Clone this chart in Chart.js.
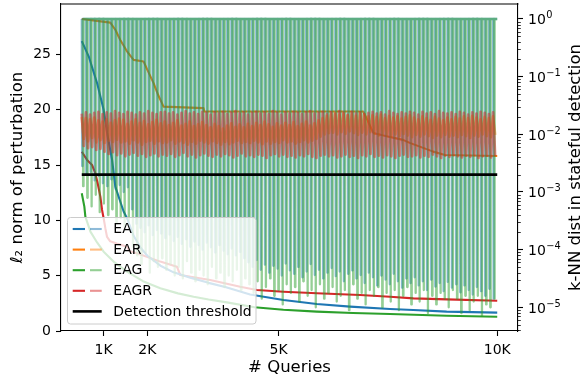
<!DOCTYPE html>
<html><head><meta charset="utf-8">
<script src="https://cdn.jsdelivr.net/npm/chart.js@4.4.0/dist/chart.umd.min.js"></script>
<style>html,body{margin:0;padding:0;background:#fff;}canvas{display:block;}</style>
</head><body>
<canvas id="c" width="586" height="379"></canvas>
<script>
// ---------- axis ticks ----------
const xTickValues = [1000, 2000, 5000, 10000];
const xTickLabels = ['1K', '2K', '5K', '10K'];
const yTickValues = [0, 5, 10, 15, 20, 25];
const y2TickValues = [1e-5, 1e-4, 1e-3, 1e-2, 1e-1, 1];
const y2TickExponents = ['\u22125', '\u22124', '\u22123', '\u22122', '\u22121', '0'];

// ---------- l2 norm of perturbation (left axis) ----------
const eaQueries = [500,660,770,850,1000,1078,1192,1267,1380,1457,1534,1685,1850,2000,2300,2600,3000,3400,3800,4350,5111,5874,6635,7548,8082,8843,10000];
const eaNorm    = [26.2,24.8,23.4,22.4,20.0,17.9,15.5,13.05,11.7,10.8,10.2,8.6,7.5,6.8,5.9,5.3,4.8,4.35,3.95,3.3,2.8,2.44,2.2,1.99,1.9,1.75,1.66];

const earQueries = [500,1153,1270,1381,1530,1685,1914,2000,2142,2250,2370,3284,3300,6938,7167,7473,7845,8000,8537,8804,10000];
const earNorm    = [28.2,27.87,27.2,26.3,25.3,24.5,24.35,23.6,22.4,21.3,20.28,20.14,19.83,19.83,17.9,17.6,17.27,17.0,16.21,15.9,15.82];

const eagQueries = [500,559,582,698,850,1000,1250,1534,1900,2295,2700,3058,3400,3818,4450,5111,5874,6700,7548,8843,10000];
const eagNorm    = [12.45,11.24,10.33,8.98,8.0,7.17,6.2,5.36,4.5,3.86,3.4,3.1,2.85,2.59,2.15,1.92,1.75,1.62,1.54,1.38,1.29];

const eagrQueries = [500,621,735,810,863,925,964,1000,1039,1078,1150,1300,1534,1600,1763,2295,2676,2752,3437,4122,4504,5111,5874,6863,7548,8082,8843,10000];
const eagrNorm    = [16.2,15.46,15.0,14.26,13.35,12.14,10.94,10.19,9.29,8.5,8.1,7.9,7.62,7.2,7.03,6.27,5.81,5.06,4.61,4.0,3.7,3.55,3.41,3.25,3.1,2.95,2.86,2.74];

// ---------- k-NN dist in stateful detection (right axis) ----------
const thresholdQueries = [500, 10000];
const thresholdDist = [0.002, 0.002];
const knnStart = 500, knnStep = 95;   // query index of each k-NN sample
const knnTop = 1.0;                    // maximum distance between drops

// log10 of the low point of each drop (EA, EAG)
const eaKnnLowLog10 = [
-2.55,-2.70,-2.65,-2.80,-2.72,-2.85,-2.90,-2.78,-2.95,-2.88,
-3.00,-2.92,-3.30,-3.55,-3.62,-3.70,-3.58,-3.75,-3.66,-3.72,
-3.80,-3.74,-3.85,-3.78,-3.90,-3.82,-3.95,-3.86,-3.92,-4.00,
-3.88,-3.96,-4.05,-3.92,-4.02,-4.08,-3.98,-4.10,-4.04,-4.15,
-4.22,-4.30,-4.18,-4.35,-4.26,-4.40,-4.28,-4.33,-4.45,-4.24,
-4.36,-4.42,-4.30,-4.48,-4.38,-4.25,-4.44,-4.35,-4.50,-4.40,
-4.32,-4.46,-4.38,-4.55,-4.42,-4.36,-4.50,-4.44,-4.58,-4.40,
-4.48,-4.62,-4.45,-4.52,-4.60,-4.42,-4.55,-4.66,-4.50,-4.58,
-4.48,-4.62,-4.55,-4.70,-4.52,-4.64,-4.58,-4.72,-4.56,-4.66,
-4.60,-4.74,-4.62,-4.70,-4.78,-4.65,-4.72,-4.80,-4.68,-4.85];
const eagKnnLowLog10 = [
-2.90,-3.10,-3.25,-3.05,-3.35,-3.20,-3.40,-3.30,-3.55,-3.45,
-3.60,-3.50,-3.95,-4.10,-4.25,-4.05,-4.40,-4.20,-4.30,-4.15,
-4.35,-4.25,-4.45,-4.30,-4.50,-4.20,-4.40,-4.55,-4.35,-4.45,
-4.60,-4.30,-4.50,-4.40,-4.65,-4.45,-4.55,-4.35,-4.70,-4.50,
-4.60,-4.75,-4.55,-4.85,-4.65,-4.50,-4.80,-4.70,-4.95,-4.60,
-4.75,-4.65,-4.90,-4.55,-4.80,-4.70,-5.00,-4.60,-4.85,-4.75,
-4.65,-4.90,-4.80,-4.70,-5.05,-4.60,-4.85,-4.75,-4.95,-4.70,
-4.80,-4.65,-5.00,-4.75,-4.90,-4.70,-5.05,-4.80,-4.65,-4.95,
-4.75,-4.90,-4.70,-5.10,-4.80,-4.95,-4.75,-4.85,-5.00,-4.70,
-4.85,-5.10,-4.80,-5.05,-4.90,-4.80,-5.15,-4.95,-5.00,-4.85];

// log10 of alternating high / low samples (EAR, EAGR)
const earKnnHighLog10 = [
-1.70,-1.72,-1.74,-1.71,-1.76,-1.78,-1.74,-1.80,-1.76,-1.73,
-1.75,-1.82,-1.78,-1.74,-1.80,-1.77,-1.83,-1.79,-1.75,-1.81,
-1.78,-1.84,-1.80,-1.76,-1.85,-1.82,-1.78,-1.86,-1.83,-1.79,
-1.84,-1.88,-1.82,-1.86,-1.90,-1.85,-1.81,-1.87,-1.83,-1.88,
-1.82,-1.86,-1.80,-1.84,-1.78,-1.83,-1.87,-1.81,-1.85,-1.80,
-1.84,-1.79,-1.86,-1.82,-1.78,-1.85,-1.81,-1.76,-1.72,-1.68,
-1.65,-1.63,-1.66,-1.64,-1.67,-1.65,-1.68,-1.64,-1.66,-1.69,
-1.67,-1.70,-1.66,-1.72,-1.68,-1.71,-1.69,-1.73,-1.70,-1.67,
-1.71,-1.74,-1.69,-1.72,-1.75,-1.70,-1.73,-1.76,-1.71,-1.74,
-1.70,-1.73,-1.69,-1.72,-1.68,-1.71,-1.74,-1.70,-1.72,-1.69];
const earKnnLowLog10 = [
-2.08,-2.12,-2.06,-2.14,-2.10,-2.15,-2.11,-2.13,-2.09,-2.14,
-2.12,-2.16,-2.10,-2.14,-2.18,-2.13,-2.11,-2.16,-2.12,-2.15,
-2.14,-2.10,-2.16,-2.12,-2.15,-2.18,-2.13,-2.16,-2.11,-2.14,
-2.16,-2.12,-2.15,-2.18,-2.13,-2.17,-2.14,-2.11,-2.15,-2.13,
-2.15,-2.11,-2.14,-2.17,-2.12,-2.16,-2.13,-2.15,-2.10,-2.14,
-2.12,-2.16,-2.13,-2.10,-2.14,-2.11,-2.08,-2.04,-2.00,-1.98,
-1.97,-2.00,-1.96,-1.99,-1.95,-1.98,-2.01,-1.97,-2.00,-1.96,
-1.99,-2.02,-1.98,-2.01,-2.04,-2.00,-2.03,-1.99,-2.02,-2.05,
-2.01,-2.04,-2.00,-2.03,-2.06,-2.02,-2.05,-2.01,-2.04,-2.02,
-2.05,-2.01,-2.03,-2.06,-2.02,-2.04,-2.00,-2.03,-2.05,-2.01];
const eagrKnnHighLog10 = [
-1.64,-1.62,-1.66,-1.63,-1.61,-1.65,-1.62,-1.64,-1.60,-1.63,
-1.65,-1.61,-1.63,-1.66,-1.62,-1.64,-1.60,-1.63,-1.65,-1.62,
-1.61,-1.64,-1.62,-1.66,-1.63,-1.60,-1.64,-1.62,-1.65,-1.61,
-1.63,-1.66,-1.62,-1.64,-1.61,-1.65,-1.63,-1.60,-1.64,-1.62,
-1.66,-1.63,-1.61,-1.64,-1.62,-1.65,-1.60,-1.63,-1.66,-1.62,
-1.64,-1.61,-1.63,-1.65,-1.62,-1.60,-1.64,-1.63,-1.61,-1.65,
-1.62,-1.64,-1.60,-1.63,-1.66,-1.61,-1.64,-1.62,-1.65,-1.63,
-1.61,-1.64,-1.62,-1.66,-1.60,-1.63,-1.65,-1.62,-1.64,-1.61,
-1.63,-1.66,-1.61,-1.64,-1.62,-1.65,-1.60,-1.63,-1.64,-1.62,
-1.65,-1.61,-1.63,-1.66,-1.62,-1.64,-1.61,-1.63,-1.65,-1.62];
const eagrKnnLowLog10 = [
-2.20,-2.24,-2.22,-2.27,-2.25,-2.30,-2.34,-2.31,-2.36,-2.33,
-2.38,-2.35,-2.32,-2.37,-2.34,-2.39,-2.36,-2.33,-2.38,-2.35,
-2.37,-2.34,-2.39,-2.36,-2.32,-2.38,-2.35,-2.40,-2.36,-2.33,
-2.37,-2.39,-2.35,-2.38,-2.34,-2.36,-2.40,-2.37,-2.33,-2.38,
-2.36,-2.39,-2.35,-2.37,-2.41,-2.36,-2.34,-2.38,-2.35,-2.39,
-2.37,-2.40,-2.36,-2.38,-2.34,-2.39,-2.41,-2.37,-2.35,-2.38,
-2.36,-2.40,-2.38,-2.35,-2.39,-2.37,-2.41,-2.36,-2.38,-2.34,
-2.39,-2.37,-2.40,-2.36,-2.38,-2.41,-2.37,-2.35,-2.39,-2.38,
-2.36,-2.40,-2.37,-2.39,-2.35,-2.38,-2.41,-2.37,-2.39,-2.36,
-2.38,-2.40,-2.37,-2.39,-2.36,-2.41,-2.38,-2.37,-2.40,-2.38];

// ---------- build point lists ----------
const pts = (xs, ys) => xs.map((x, i) => ({x, y: ys[i]}));
function dropSeries(lows, offset) {
  const out = [];
  lows.forEach((e, i) => {
    const q = knnStart + knnStep * i + offset;
    out.push({x: q, y: knnTop}, {x: q + 9, y: Math.pow(10, e)}, {x: q + 18, y: knnTop});
  });
  out.push({x: 10000, y: knnTop});
  return out;
}
function bandSeries(highs, lows) {
  const out = [];
  highs.forEach((e, i) => {
    const q = knnStart + knnStep * i;
    out.push({x: q, y: Math.pow(10, e)}, {x: q + knnStep / 2, y: Math.pow(10, lows[i])});
  });
  return out;
}

const C = {blue:'#1f77b4', orange:'#ff7f0e', green:'#2ca02c', red:'#d62728'};
const A = {blue:'rgba(31,119,180,0.5)', orange:'rgba(255,127,14,0.5)', green:'rgba(44,160,44,0.5)', red:'rgba(214,39,40,0.5)'};

const l2 = (data, color, order) => ({data, borderColor: color, borderWidth: 2.1, pointRadius: 0, tension: 0, yAxisID: 'y', order, borderJoinStyle: 'round'});
const knn = (data, color, order, w) => ({data, borderColor: color, borderWidth: w, pointRadius: 0, tension: 0, yAxisID: 'y2', order, borderJoinStyle: 'round'});

// lower "order" is drawn on top
const datasets = [
  {data: pts(thresholdQueries, thresholdDist), borderColor: '#000', borderWidth: 2.6, pointRadius: 0, yAxisID: 'y2', order: 0},
  knn(bandSeries(eagrKnnHighLog10, eagrKnnLowLog10), A.red, 1, 2.8),
  knn(dropSeries(eagKnnLowLog10, 22), A.green, 2, 2.3),
  knn(bandSeries(earKnnHighLog10, earKnnLowLog10), A.orange, 3, 2.8),
  knn(dropSeries(eaKnnLowLog10, 0), A.blue, 4, 2.3),
  l2(pts(eaQueries, eaNorm), C.blue, 5),
  l2(pts(earQueries, earNorm), C.orange, 6),
  l2(pts(eagQueries, eagNorm), C.green, 7),
  l2(pts(eagrQueries, eagrNorm), C.red, 8)
];

const legendItems = [
  {label: 'EA', color: C.blue, light: A.blue},
  {label: 'EAR', color: C.orange, light: A.orange},
  {label: 'EAG', color: C.green, light: A.green},
  {label: 'EAGR', color: C.red, light: A.red},
  {label: 'Detection threshold', color: '#000', light: null}
];

const FONT = "'DejaVu Sans', sans-serif";
Chart.defaults.font.family = FONT;
Chart.defaults.font.size = 14;
Chart.defaults.color = '#000';

const deco = {
  id: 'deco',
  afterDraw(chart) {
    const ctx = chart.ctx, ca = chart.chartArea;
    ctx.save();
    // top spine
    ctx.strokeStyle = '#000'; ctx.lineWidth = 1.1;
    ctx.beginPath(); ctx.moveTo(ca.left - 0.5, ca.top); ctx.lineTo(ca.right + 0.5, ca.top); ctx.stroke();
    // minor log ticks on right axis
    const s = chart.scales.y2;
    ctx.lineWidth = 0.8;
    ctx.beginPath();
    for (let e = -6; e <= 0; e++) for (let m = 2; m <= 9; m++) {
      const v = m * Math.pow(10, e);
      if (v < s.min || v > s.max) continue;
      const py = Math.round(s.getPixelForValue(v)) + 0.5;
      ctx.moveTo(ca.right, py); ctx.lineTo(ca.right + 2.8, py);
    }
    ctx.stroke();
    // right tick labels: 10 with superscript exponent
    ctx.fillStyle = '#000';
    ctx.textAlign = 'left'; ctx.textBaseline = 'alphabetic';
    y2TickValues.forEach((v, i) => {
      const py = s.getPixelForValue(v);
      const x0 = ca.right + 10;
      ctx.font = '14px ' + FONT;
      ctx.fillText('10', x0, py + 5.5);
      const w = ctx.measureText('10').width;
      ctx.font = '9.8px ' + FONT;
      ctx.fillText(y2TickExponents[i], x0 + w + 0.5, py - 0.5);
    });
    // axis titles
    ctx.font = '16.5px ' + FONT;
    ctx.textAlign = 'center'; ctx.textBaseline = 'alphabetic';
    ctx.fillText('# Queries', (ca.left + ca.right) / 2, 372);
    const midY = (ca.top + ca.bottom) / 2;
    ctx.save(); ctx.translate(21.5, midY); ctx.rotate(-Math.PI / 2);
    ctx.fillText('\u2113\u2082 norm of perturbation', 0, 0); ctx.restore();
    ctx.save(); ctx.translate(580, midY); ctx.rotate(-Math.PI / 2);
    ctx.fillText('k-NN dist in stateful detection', 0, 0); ctx.restore();
    // legend
    const lx = ca.left + 6.5, ly = 217.5, lw = 188.5, lh = 106.5, r = 3;
    ctx.beginPath();
    ctx.moveTo(lx + r, ly); ctx.lineTo(lx + lw - r, ly); ctx.arcTo(lx + lw, ly, lx + lw, ly + r, r);
    ctx.lineTo(lx + lw, ly + lh - r); ctx.arcTo(lx + lw, ly + lh, lx + lw - r, ly + lh, r);
    ctx.lineTo(lx + r, ly + lh); ctx.arcTo(lx, ly + lh, lx, ly + lh - r, r);
    ctx.lineTo(lx, ly + r); ctx.arcTo(lx, ly, lx + r, ly, r); ctx.closePath();
    ctx.fillStyle = 'rgba(255,255,255,0.8)'; ctx.fill();
    ctx.strokeStyle = '#cccccc'; ctx.lineWidth = 1; ctx.stroke();
    ctx.font = '14px ' + FONT; ctx.textAlign = 'left'; ctx.textBaseline = 'middle';
    legendItems.forEach((it, i) => {
      const y = 229 + i * 20.6;
      ctx.lineWidth = 2.1;
      if (it.light) {
        ctx.strokeStyle = it.color; ctx.beginPath(); ctx.moveTo(72.7, y); ctx.lineTo(85, y); ctx.stroke();
        ctx.strokeStyle = it.light; ctx.beginPath(); ctx.moveTo(90, y); ctx.lineTo(101.7, y); ctx.stroke();
      } else {
        ctx.lineWidth = 2.6;
        ctx.strokeStyle = it.color; ctx.beginPath(); ctx.moveTo(72.7, y); ctx.lineTo(101.7, y); ctx.stroke();
      }
      ctx.fillStyle = '#000';
      ctx.fillText(it.label, 113.3, y + 0.5);
    });
    ctx.restore();
  }
};

const axisCommon = {
  grid: {drawOnChartArea: false, drawTicks: true, tickLength: 5, tickColor: '#000', tickWidth: 1.1},
  border: {display: true, color: '#000', width: 1.1}
};
const noPad = s => { s.paddingTop = 0; s.paddingBottom = 0; s.paddingLeft = 0; s.paddingRight = 0; };

new Chart(document.getElementById('c'), {
  type: 'line',
  data: {datasets},
  plugins: [deco],
  options: {
    responsive: false, animation: false, devicePixelRatio: 1,
    layout: {padding: {top: 4, left: 0, right: 0, bottom: 0}},
    plugins: {legend: {display: false}, tooltip: {enabled: false}},
    scales: {
      x: Object.assign({
        type: 'linear', position: 'bottom', min: 25, max: 10475,
        afterBuildTicks: s => { s.ticks = xTickValues.map(v => ({value: v})); },
        afterFit: s => { s.height = 48; noPad(s); },
        ticks: {callback: (v, i) => xTickLabels[i], padding: 6, maxRotation: 0, autoSkip: false, font: {size: 14}}
      }, axisCommon),
      y: Object.assign({
        type: 'linear', position: 'left', min: 0, max: 29.55,
        afterBuildTicks: s => { s.ticks = yTickValues.map(v => ({value: v})); },
        afterFit: s => { s.width = 61; noPad(s); },
        ticks: {callback: (v, i) => String(yTickValues[i]), padding: 5, font: {size: 14}}
      }, axisCommon),
      y2: Object.assign({
        type: 'logarithmic', position: 'right', min: Math.pow(10, -5.411), max: Math.pow(10, 0.26),
        afterBuildTicks: s => { s.ticks = y2TickValues.map(v => ({value: v})); },
        afterFit: s => { s.width = 68; noPad(s); },
        ticks: {callback: () => '', padding: 5, font: {size: 14}}
      }, axisCommon)
    }
  }
});
</script>
</body></html>
